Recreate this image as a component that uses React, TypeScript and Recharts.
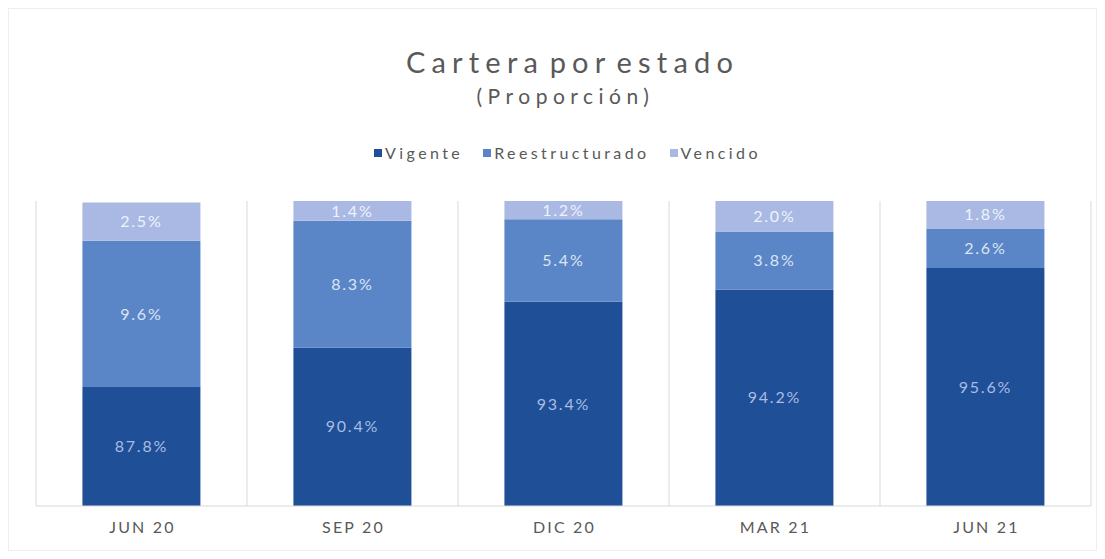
import { BarChart, Bar, XAxis, YAxis, CartesianGrid, Legend, LabelList } from "recharts";

const periods = ["JUN 20", "SEP 20", "DIC 20", "MAR 21", "JUN 21"];
const vigente = [87.8, 90.4, 93.4, 94.2, 95.6];
const reestructurado = [9.6, 8.3, 5.4, 3.8, 2.6];
const vencido = [2.5, 1.4, 1.2, 2.0, 1.8];

const series = [
  { key: "vigente", name: "Vigente", color: "#1f4f97", label: "#a7bde4" },
  { key: "reestructurado", name: "Reestructurado", color: "#5a86c7", label: "#dbe4f4" },
  { key: "vencido", name: "Vencido", color: "#aab9e3", label: "#eef2fb" },
];

const data = periods.map((p, i) => ({
  period: p,
  vigente: vigente[i],
  reestructurado: reestructurado[i],
  vencido: vencido[i],
}));

const FONT = "Lato, 'Open Sans', sans-serif";

function renderLegend() {
  return (
    <div style={{ display: "flex", justifyContent: "center", gap: 20, fontFamily: FONT, fontSize: 16, letterSpacing: 3.4, color: "#595959" }}>
      {series.map((s) => (
        <span key={s.key} style={{ display: "flex", alignItems: "center" }}>
          <span style={{ width: 8, height: 8, background: s.color, marginRight: 3 }} />
          {s.name}
        </span>
      ))}
    </div>
  );
}

function PeriodTick({ x, y, payload }: any) {
  return (
    <text x={x + 1} y={y + 19} textAnchor="middle" fontFamily={FONT} fontSize={16} fill="#595959" letterSpacing={2.2}>
      {payload.value}
    </text>
  );
}

const pct = (v: any) => `${Number(v).toFixed(1)}%`;

export default function App() {
  return (
    <div style={{ position: "relative", width: 1089, height: 543, border: "1px solid #eeeeee", boxSizing: "border-box" }}>
      <div style={{ position: "absolute", top: 34, left: 0, width: "100%", textAlign: "center", fontFamily: FONT, color: "#595959", paddingLeft: 40, boxSizing: "border-box" }}>
        <div style={{ fontSize: 29, letterSpacing: 6.2, wordSpacing: -8, lineHeight: "38px" }}>Cartera por estado</div>
        <div style={{ fontSize: 21, letterSpacing: 5.5, lineHeight: "30px", marginRight: 14 }}>(Proporción)</div>
      </div>
      <BarChart
        width={1089}
        height={543}
        data={data}
        margin={{ top: 192, right: 7, left: 27, bottom: 16 }}
        barCategoryGap="22%"
      >
        <CartesianGrid
          horizontal={false}
          stroke="#d9d9d9"
          verticalCoordinatesGenerator={({ offset }: any) =>
            [0, 1, 2, 3, 4, 5].map((i) => offset.left + (i * offset.width) / 5)
          }
        />
        <XAxis dataKey="period" height={30} tickLine={false} axisLine={{ stroke: "#d9d9d9" }} tick={<PeriodTick />} interval={0} />
        <YAxis hide domain={[80, 100]} allowDataOverflow type="number" />
        <Legend
          layout="horizontal"
          verticalAlign="middle"
          align="center"
          content={renderLegend}
          wrapperStyle={{ top: 134, left: 36, width: 1045 }}
        />
        {series.map((s) => (
          <Bar key={s.key} dataKey={s.key} name={s.name} stackId="a" fill={s.color} isAnimationActive={false}>
            <LabelList dataKey={s.key} position="center" formatter={pct} fill={s.label} fontSize={16} letterSpacing={1.8} fontFamily={FONT} />
          </Bar>
        ))}
      </BarChart>
    </div>
  );
}
